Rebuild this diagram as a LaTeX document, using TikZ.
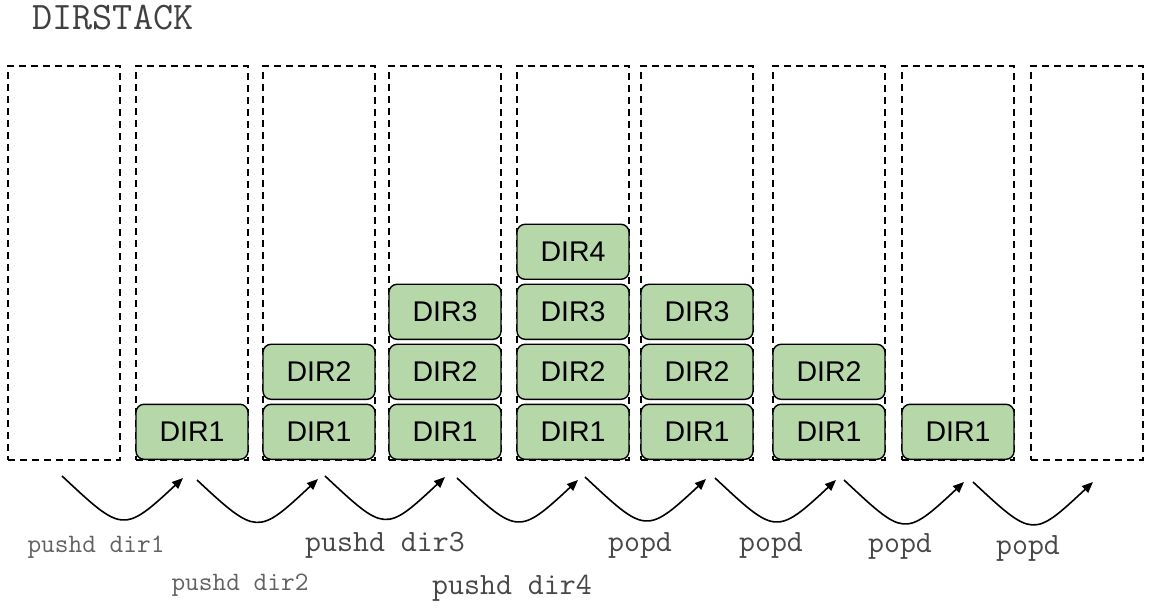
\documentclass[tikz,border=0pt]{standalone}
\usepackage{fontspec}
\setmainfont{Liberation Sans}
\usepackage{xcolor}
\usetikzlibrary{arrows.meta, positioning}
\definecolor{dirgreen}{HTML}{B6D7A8}
\tikzset{
  stackcol/.style={rectangle, draw, line width=1.6bp, dash pattern=on 7bp off 5bp,
                   minimum width=112bp, minimum height=394bp, inner sep=0pt},
  dirbox/.style={rectangle, draw, line width=1.4bp, fill=dirgreen, rounded corners=8bp,
                 minimum width=112bp, minimum height=55bp, inner sep=0pt,
                 font=\fontsize{28.5bp}{30bp}\selectfont},
  cmdlabel/.style={font=\ttfamily\fontsize{31bp}{33bp}\selectfont, text=black!72},
  smalllabel/.style={font=\ttfamily\fontsize{26.6bp}{29bp}\selectfont, text=black!62},
}

\begin{document}
\begin{tikzpicture}[
  x=1bp, y=-1bp,
  curvearrow/.style={-{Triangle[length=11bp, width=9bp]}, line width=1.6bp}
]
  \useasboundingbox (0,0) rectangle (1159,609);

  % Title
  \node (title) at (113,18) [font=\ttfamily\fontsize{39bp}{41bp}\selectfont, text=black!75] {DIRSTACK};

  % Stack columns and their entries
  \foreach \x/\n [count=\i] in {64/0,192/1,319/2,445/3,573/4,697/3,829/2,958/1,1087/0} {
    \node (col\i) at (\x,263) [stackcol] {};
    \ifnum\n>0
      \foreach \k in {1,...,\n}
        \node (dir\i-\k) at (\x,{460-(\k-1)*60}) [dirbox, anchor=south] {DIR\k};
    \fi
  }

  % Curved arrows between states
  \foreach \sx/\sy/\ex/\ey [count=\i] in {62/476/183/478, 197/480/318/479, 325/476/445/477,
      457/478/578/480, 585/477/706/479, 715/478/836/480, 844/480/964/482, 973/482/1093/482} {
    \coordinate (from\i) at (\sx,\sy);
    \coordinate (to\i) at (\ex,\ey);
    \draw[curvearrow] (from\i) .. controls +(60,56) and +(-60,56) .. (to\i);
  }

  % Commands
  \node (push1) at (96,547) [smalllabel] {pushd dir1};
  \node (push2) at (240,585) [smalllabel] {pushd dir2};
  \node (push3) at (385,545) [cmdlabel] {pushd dir3};
  \node (push4) at (512,588) [cmdlabel] {pushd dir4};
  \node (pop1) at (640,545) [cmdlabel] {popd};
  \node (pop2) at (771,545) [cmdlabel] {popd};
  \node (pop3) at (900,546) [cmdlabel] {popd};
  \node (pop4) at (1028,548) [cmdlabel] {popd};

\end{tikzpicture}
\end{document}
